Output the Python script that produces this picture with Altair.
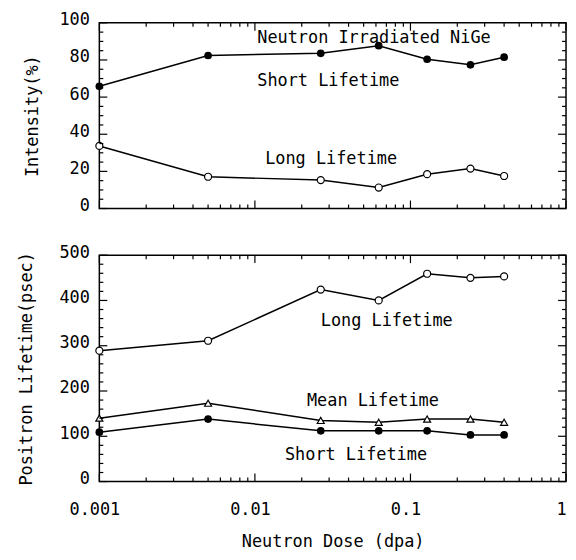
import altair as alt
import pandas as pd

# ---------------- data ----------------
dose = [0.001, 0.005, 0.0265, 0.0625, 0.128, 0.243, 0.40]
intensity_short = [65.8, 82.4, 83.6, 87.7, 80.4, 77.4, 81.5]
intensity_long = [33.7, 17.1, 15.3, 11.3, 18.5, 21.5, 17.5]
lifetime_long = [289, 311, 424, 400, 459, 450, 453]
lifetime_mean = [140, 173, 135, 131, 138, 138, 131]
lifetime_short = [109, 138, 112, 112, 112, 103, 103]

x_major = [0.001, 0.01, 0.1, 1]
x_minor = [m * d for d in [0.001, 0.01, 0.1] for m in range(2, 10)]
top_y_major = [0, 20, 40, 60, 80, 100]
top_y_minor = [v for v in range(0, 101, 5) if v % 20]
bot_y_major = [0, 100, 200, 300, 400, 500]
bot_y_minor = [v for v in range(0, 501, 20) if v % 100]

top_labels = ["Neutron Irradiated NiGe", "Short Lifetime", "Long Lifetime"]
top_label_x = [0.01035, 0.01035, 0.01164]
top_label_y = [92, 68.5, 26.5]
bot_labels = ["Long Lifetime", "Mean Lifetime", "Short Lifetime"]
bot_label_x = [0.0265, 0.0216, 0.0156]
bot_label_y = [355, 177.6, 59]

FONT = "DejaVu Sans Mono"
W = 470
H1 = 187
H2 = 228
MAJ = 8
MIN = 4


def panel(series, markers, ydomain, yaxis, xaxis, h, ymaj, ymin, lx, ly, ltext):
    xs = alt.Scale(type="log", domain=[0.001, 1])
    ys = alt.Scale(domain=ydomain, nice=False, zero=False)
    X = lambda: alt.X("x:Q", scale=xs, axis=xaxis)
    Y = lambda: alt.Y("y:Q", scale=ys, axis=yaxis)

    rows = []
    for name, vals in series:
        for xv, yv in zip(dose, vals):
            rows.append({"x": xv, "y": yv, "series": name})
    df = pd.DataFrame(rows)

    layers = [
        alt.Chart(df).mark_line(color="black", strokeWidth=1.5).encode(
            x=X(), y=Y(), detail="series:N")
    ]
    for name, (shape, filled) in markers.items():
        sub = df[df.series == name]
        if filled:
            m = alt.Chart(sub).mark_point(shape=shape, filled=True, color="black",
                                          size=60, opacity=1)
        else:
            m = alt.Chart(sub).mark_point(shape=shape, filled=True, fill="white",
                                          stroke="black", strokeWidth=1.2,
                                          size=50, opacity=1)
        layers.append(m.encode(x=X(), y=Y()))

    txt = pd.DataFrame({"x": lx, "y": ly, "t": ltext})
    layers.append(alt.Chart(txt).mark_text(align="left", baseline="middle", font=FONT,
                                           fontSize=17, color="black").encode(
        x=X(), y=Y(), text="t:N"))

    # inward ticks on all four sides
    for vals, L in [(x_major, MAJ), (x_minor, MIN)]:
        d = pd.DataFrame({"x": vals})
        layers.append(alt.Chart(d).mark_rule(color="black", strokeWidth=1.2).encode(
            x=X(), y=alt.value(0), y2=alt.value(L)))
        layers.append(alt.Chart(d).mark_rule(color="black", strokeWidth=1.2).encode(
            x=X(), y=alt.value(h - L), y2=alt.value(h)))
    for vals, L in [(ymaj, MAJ), (ymin, MIN)]:
        d = pd.DataFrame({"y": vals})
        layers.append(alt.Chart(d).mark_rule(color="black", strokeWidth=1.2).encode(
            y=Y(), x=alt.value(0), x2=alt.value(L)))
        layers.append(alt.Chart(d).mark_rule(color="black", strokeWidth=1.2).encode(
            y=Y(), x=alt.value(W - L), x2=alt.value(W)))

    return alt.layer(*layers).properties(width=W, height=h)


top = panel(
    [("short", intensity_short), ("long", intensity_long)],
    {"short": ("circle", True), "long": ("circle", False)},
    [0, 100],
    alt.Axis(values=top_y_major, title="Intensity(%)", labelPadding=10, titlePadding=18,
             labelOffset=-3),
    None, H1, top_y_major, top_y_minor, top_label_x, top_label_y, top_labels)

bottom = panel(
    [("long", lifetime_long), ("mean", lifetime_mean), ("short", lifetime_short)],
    {"long": ("circle", False), "mean": ("triangle-up", False), "short": ("circle", True)},
    [0, 500],
    alt.Axis(values=bot_y_major, title="Positron Lifetime(psec)", labelPadding=10,
             titlePadding=24, labelOffset=-3),
    alt.Axis(values=x_major, format="~g", title="Neutron Dose (dpa)", labelPadding=20,
             titlePadding=16, labelFlush=False, labelOffset=-5),
    H2, bot_y_major, bot_y_minor, bot_label_x, bot_label_y, bot_labels)

chart = alt.vconcat(top, bottom, spacing=28).properties(
    padding={"left": 8, "top": 0, "right": 0, "bottom": 0}
).configure_view(stroke="black", strokeWidth=1.5).configure_axis(
    labelFont=FONT, titleFont=FONT, labelFontSize=17, titleFontSize=17,
    titleFontWeight="normal", labelColor="black", titleColor="black",
    grid=False, ticks=False, domain=False
)

chart.save("out.html", embed_options={"renderer": "svg", "actions": False})
